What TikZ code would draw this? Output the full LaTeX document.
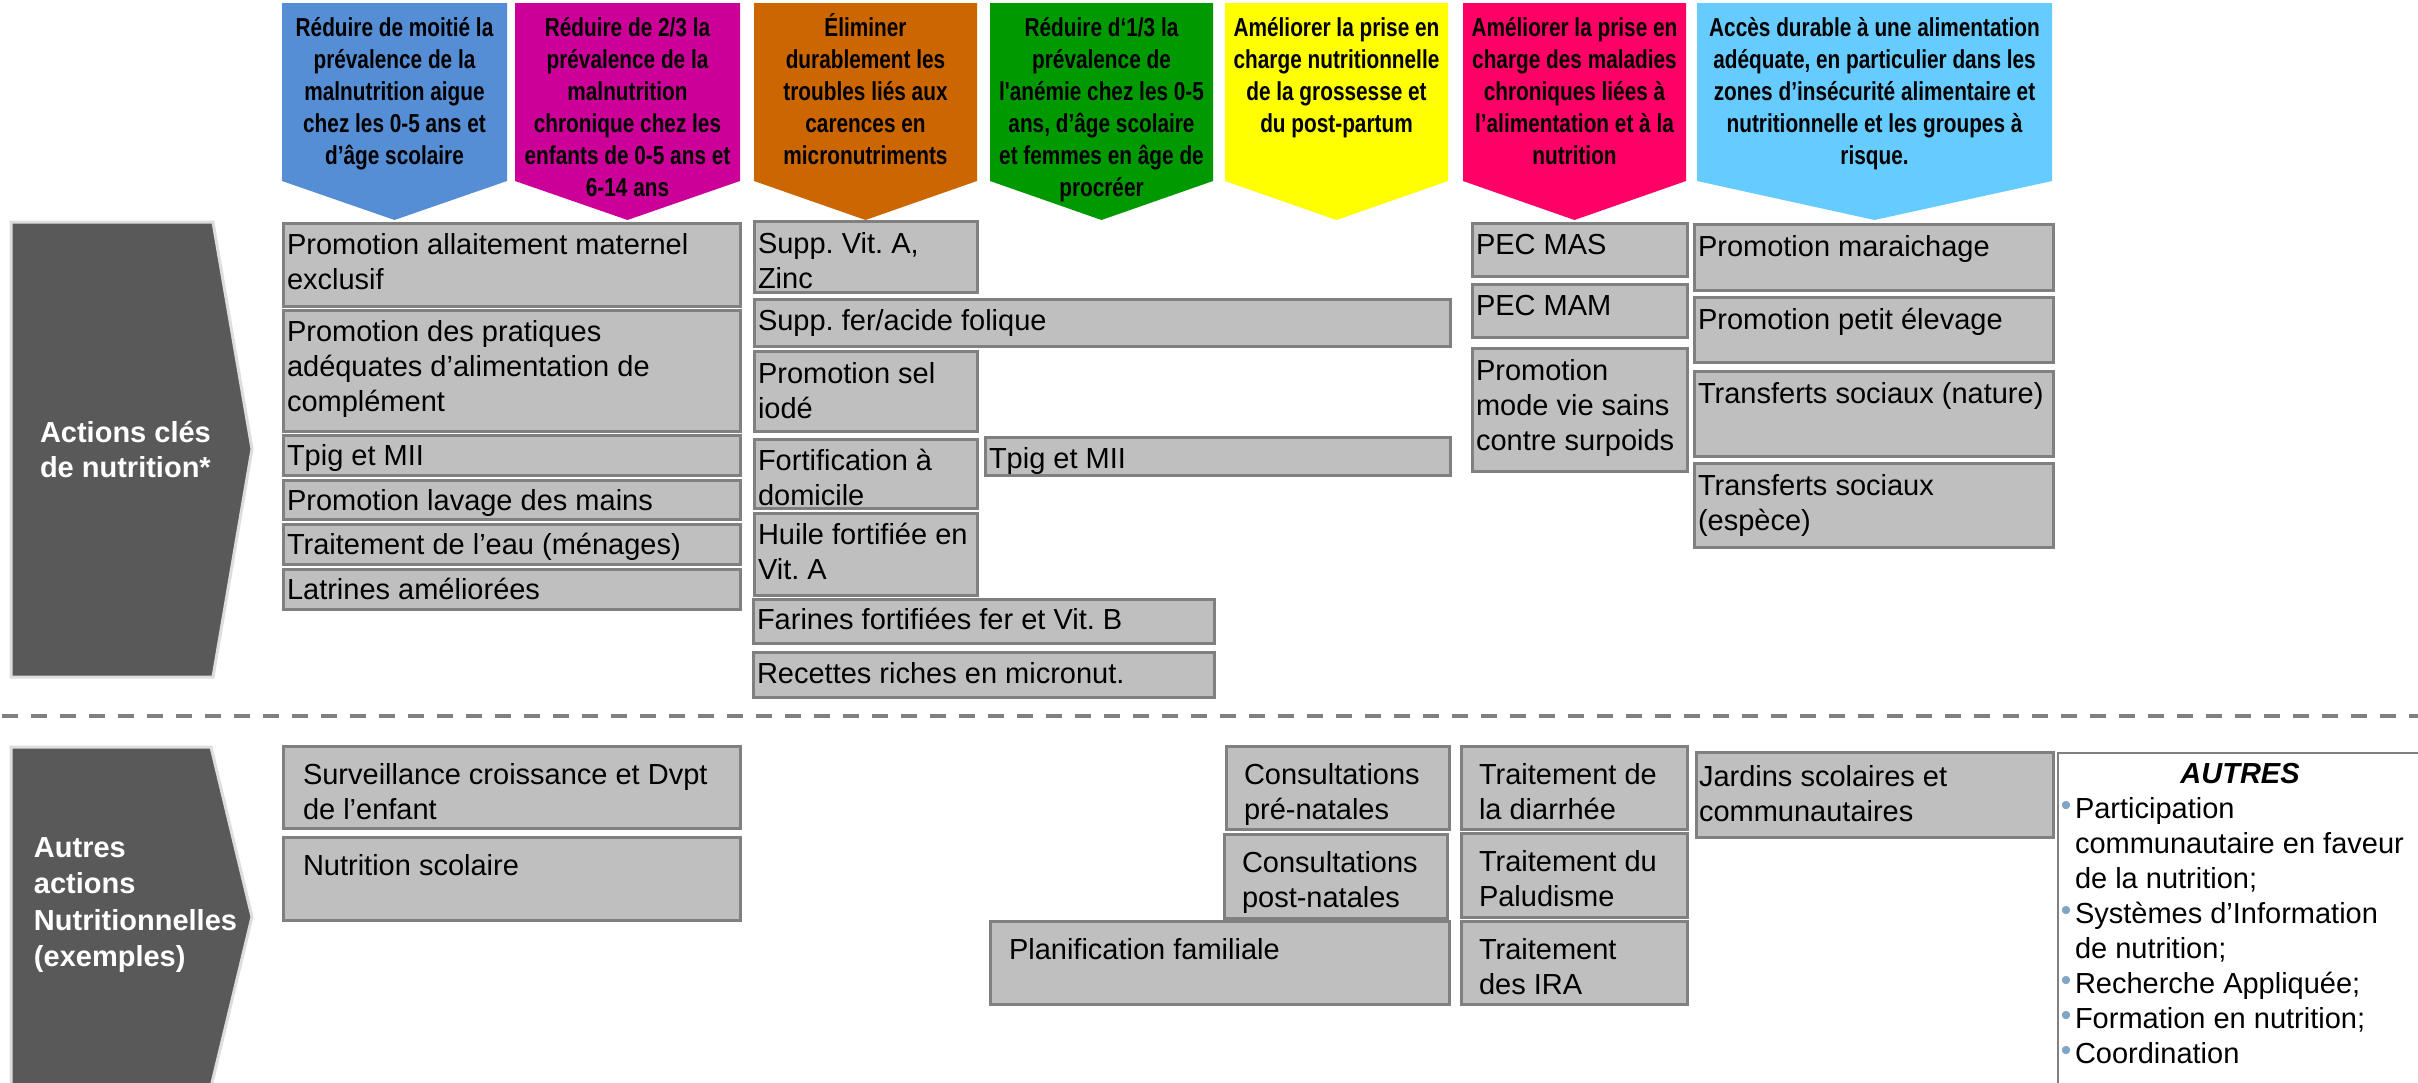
\documentclass[tikz,border=0pt]{standalone}
\usepackage{fontspec}
\setmainfont{Liberation Sans}
\newfontfamily\hdrfont[FakeStretch=0.8]{Liberation Sans Bold}
\definecolor{cBlue}{HTML}{558ED5}
\definecolor{cMagenta}{HTML}{CC0099}
\definecolor{cOrange}{HTML}{CC6600}
\definecolor{cGreen}{HTML}{009900}
\definecolor{cYellow}{HTML}{FFFF00}
\definecolor{cRed}{HTML}{FF0066}
\definecolor{cSky}{HTML}{66CCFF}
\definecolor{boxfill}{HTML}{BFBFBF}
\definecolor{boxline}{HTML}{808080}
\definecolor{lblfill}{HTML}{595959}
\definecolor{lblline}{HTML}{DDDDDD}
\definecolor{bulcol}{HTML}{7FA6C6}
\newcommand\boxfs{\fontsize{29}{35}\selectfont}
\newcommand\hdrfs{\hdrfont\fontsize{26}{32}\selectfont}
\newcommand\lblfs{\bfseries\fontsize{29}{35}\selectfont}
\tikzset{
  gbox/.style={fill=boxfill, draw=boxline, line width=3pt},
  gtxt/.style={inner sep=0pt, outer sep=0pt, align=left, font=\boxfs, text=black},
  hdr/.style={inner sep=0pt, outer sep=0pt, align=center, font=\hdrfs, text=black},
  lbl/.style={inner sep=0pt, outer sep=0pt, align=left, text=white},
  lblshape/.style={fill=lblfill, draw=lblline, line width=3pt},
  sepline/.style={draw=boxline, line width=4pt, dash pattern=on 16pt off 13pt},
  bul/.style={inner sep=0pt, font=\fontsize{30}{30}\selectfont, text=bulcol},
}
% name, x1, x2, colour, text
\newcommand\hdrarrow[5]{%
  \path[fill=#4] (#2,3) -- (#3,3) -- (#3,181) -- ({(#2+#3)/2},220) -- (#2,181) -- cycle;
  \node[hdr, anchor=north] (#1) at ({(#2+#3)/2},13) {\rule{0pt}{23pt}#5};
}
% name, x1, y1, x2, y2, padx, topoff, text
\newcommand\gbx[8]{%
  \draw[gbox] (#2,#3) rectangle (#4,#5);
  \node[gtxt, anchor=north west] (#1) at ({#2+#6},{#3+#7}) {\rule{0pt}{25pt}#8};
}
\begin{document}
\frenchspacing
\begin{tikzpicture}[x=1pt,y=-1pt]
\useasboundingbox (0,0) rectangle (2418,1082);
\clip (0,0) rectangle (2418,1082);

% header arrows
\hdrarrow{h1}{282}{507}{cBlue}{Réduire de moitié la\\prévalence de la\\malnutrition aigue\\chez les 0-5 ans et\\d’âge scolaire}
\hdrarrow{h2}{515}{740}{cMagenta}{Réduire de 2/3 la\\prévalence de la\\malnutrition\\chronique chez les\\enfants de 0-5 ans et\\6-14 ans}
\hdrarrow{h3}{754}{977}{cOrange}{Éliminer\\durablement les\\troubles liés aux\\carences en\\micronutriments}
\hdrarrow{h4}{990}{1213}{cGreen}{Réduire d‘1/3 la\\prévalence de\\l'anémie chez les 0-5\\ans, d’âge scolaire\\et femmes en âge de\\procréer}
\hdrarrow{h5}{1225}{1448}{cYellow}{Améliorer la prise en\\charge nutritionnelle\\de la grossesse et\\du post-partum}
\hdrarrow{h6}{1463}{1686}{cRed}{Améliorer la prise en\\charge des maladies\\chroniques liées à\\l’alimentation et à la\\nutrition}
\hdrarrow{h7}{1697}{2052}{cSky}{Accès durable à une alimentation\\adéquate, en particulier dans les\\zones d’insécurité alimentaire et\\nutritionnelle et les groupes à\\risque.}

% left labels
\path[lblshape] (11,222) -- (213,222) -- (252,449) -- (213,677) -- (11,677) -- cycle;
\node[lbl, font=\lblfs, anchor=north west] (lab1) at (40,417) {\rule{0pt}{25pt}Actions clés\\de nutrition*};
\path[lblshape] (11,747) -- (211,747) -- (252,917) -- (211,1087) -- (11,1087) -- cycle;
\node[lbl, font=\bfseries\fontsize{29}{36.5}\selectfont, anchor=north west] (lab2) at (34,832) {\rule{0pt}{25pt}Autres\\actions\\Nutritionnelles\\(exemples)};

% column A
\gbx{a1}{283}{223}{740}{306}{4}{6}{Promotion allaitement maternel\\exclusif}
\gbx{a2}{283}{310}{740}{431}{4}{6}{Promotion des pratiques\\adéquates d’alimentation de\\complément}
\gbx{a3}{283}{435}{740}{475}{4}{5}{Tpig et MII}
\gbx{a4}{283}{480}{740}{519}{4}{5}{Promotion lavage des mains}
\gbx{a5}{283}{524}{740}{564}{4}{5}{Traitement de l’eau (ménages)}
\gbx{a6}{283}{569}{740}{609}{4}{5}{Latrines améliorées}

% column B
\gbx{b1}{754}{221}{977}{292}{4}{7}{Supp. Vit. A,\\Zinc}
\gbx{b2}{754}{299}{1450}{346}{4}{6}{Supp. fer/acide folique}
\gbx{b3}{754}{351}{977}{431}{4}{7}{Promotion sel\\iodé}
\gbx{b4}{754}{439}{977}{508}{4}{6}{Fortification à\\domicile}
\gbx{b5}{985}{437}{1450}{475}{4}{6}{Tpig et MII}
\gbx{b6}{754}{513}{977}{595}{4}{6}{Huile fortifiée en\\Vit. A}
\gbx{b7}{753}{599}{1214}{643}{4}{5}{Farines fortifiées fer et Vit. B}
\gbx{b8}{753}{652}{1214}{697}{4}{6}{Recettes riches en micronut.}

% column R
\gbx{r1}{1472}{223}{1687}{276}{4}{6}{PEC MAS}
\gbx{r2}{1472}{284}{1687}{337}{4}{6}{PEC MAM}
\gbx{r3}{1472}{348}{1687}{471}{4}{7}{Promotion\\mode vie sains\\contre surpoids}

% column L
\gbx{l1}{1694}{224}{2053}{290}{4}{7}{Promotion maraichage}
\gbx{l2}{1694}{297}{2053}{362}{4}{7}{Promotion petit élevage}
\gbx{l3}{1694}{371}{2053}{456}{4}{7}{Transferts sociaux (nature)}
\gbx{l4}{1694}{463}{2053}{547}{4}{7}{Transferts sociaux\\(espèce)}

% separator
\coordinate (sepL) at (2,716);
\coordinate (sepR) at (2418,716);
\draw[sepline] (sepL) -- (sepR);

% lower boxes
\gbx{c1}{283}{746}{740}{828}{20}{13}{Surveillance croissance et Dvpt\\de l’enfant}
\gbx{c2}{283}{837}{740}{920}{20}{13}{Nutrition scolaire}
\gbx{d1}{1226}{746}{1449}{829}{18}{13}{Consultations\\pré-natales}
\gbx{d2}{1224}{834}{1447}{918}{18}{13}{Consultations\\post-natales}
\gbx{d3}{990}{921}{1449}{1004}{19}{13}{Planification familiale}
\gbx{e1}{1461}{746}{1687}{829}{18}{13}{Traitement de\\la diarrhée}
\gbx{e2}{1461}{833}{1687}{917}{18}{13}{Traitement du\\Paludisme}
\gbx{e3}{1461}{921}{1687}{1004}{18}{13}{Traitement\\des IRA}
\gbx{f1}{1696}{752}{2053}{837}{3}{9}{Jardins scolaires et\\communautaires}

% AUTRES box
\draw[draw=boxline, line width=2.5pt] (2058,753) rectangle (2440,1100);
\node[inner sep=0pt, font=\bfseries\itshape\boxfs, anchor=base] (aut) at (2240,783) {AUTRES};
\node[gtxt, anchor=north west] (autl) at (2075,793) {\rule{0pt}{25pt}Participation\\communautaire en faveur\\de la nutrition;\\Systèmes d’Information\\de nutrition;\\Recherche Appliquée;\\Formation en nutrition;\\Coordination};
\foreach \yy [count=\i] in {818,923,993,1028,1063}
  \node[bul] (bul\i) at (2066,{\yy-10}) {•};
\end{tikzpicture}
\end{document}
